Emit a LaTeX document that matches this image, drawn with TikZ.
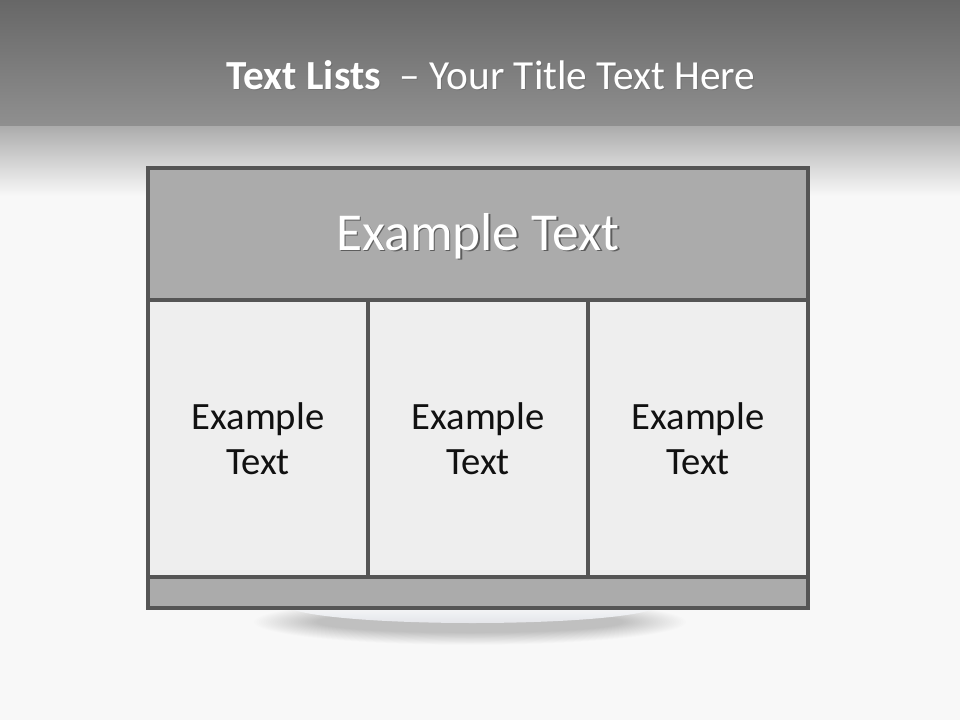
\documentclass[tikz,border=0pt]{standalone}
\usepackage{fontspec}
\setmainfont{Carlito}
\definecolor{bgw}{HTML}{F8F8F8}
\definecolor{topa}{HTML}{676767}
\definecolor{topb}{HTML}{909090}
\definecolor{fadea}{HTML}{ADADAD}
\definecolor{edge}{HTML}{555555}
\definecolor{hdrfill}{HTML}{ABABAB}
\definecolor{cellfill}{HTML}{EEEEEE}
\definecolor{txt}{HTML}{111111}
\definecolor{lensa}{HTML}{F4F5F7}
\definecolor{lensb}{HTML}{DEE0E5}
\tikzset{
  part/.style={draw=edge, line width=2.4pt, inner sep=0pt, outer sep=0pt},
  hdrbox/.style={part, fill=hdrfill, minimum width=495pt, minimum height=99pt},
  cellbox/.style={part, fill=cellfill, minimum width=165pt, minimum height=207.75pt},
  footbox/.style={part, fill=hdrfill, minimum width=495pt, minimum height=23.25pt},
  celltext/.style={text=txt, font=\fontsize{29}{34}\selectfont, align=center, inner sep=0pt},
  bigtext/.style={text=white, font=\fontsize{40}{44}\selectfont, inner sep=0pt},
  titletext/.style={text=white, font=\fontsize{31}{34}\selectfont, inner sep=0pt},
  shadowtext/.style={text=black, opacity=0.45},
  blurlayer/.style={fill=black, opacity=0.009}
}
\begin{document}
\begin{tikzpicture}[x=0.75pt,y=-0.75pt]
\useasboundingbox (0,0) rectangle (960,720);
% background
\fill[bgw] (0,0) rectangle (960,720);
\shade[top color=topa, bottom color=topb] (0,0) rectangle (960,127);
\shade[top color=fadea, bottom color=bgw] (0,127) rectangle (960,196);
% title
\node[titletext, shadowtext, opacity=0.12] (titleshadow) at (492,76) {\textbf{Text Lists}\ \ – Your Title Text Here};
\node[titletext] (title) at (491,75) {\textbf{Text Lists}\ \ – Your Title Text Here};
% soft shadow and reflection below the panel
\foreach \i in {0,...,27} {
  \fill[blurlayer] (470,622) ellipse ({216-2.3*\i} and {23-0.45*\i});
}
\shade[top color=lensa, bottom color=lensb] (288,608) .. controls (335,628) and (610,628) .. (657,608) -- cycle;
% panel
\node[hdrbox] (head) at (478,234) {};
\node[cellbox] (c1) at (258,438.5) {};
\node[cellbox] (c2) at (478,438.5) {};
\node[cellbox] (c3) at (698,438.5) {};
\node[footbox] (foot) at (478,592.5) {};
\draw[part, fill=none] (head.north west) rectangle (foot.south east);
% texts
\node[bigtext, shadowtext] (headshadow) at (479.5,237.5) {Example Text};
\node[bigtext] (headtext) at (478,236) {Example Text};
\node[celltext] (t1) at (c1) {Example\\Text};
\node[celltext] (t2) at (c2) {Example\\Text};
\node[celltext] (t3) at (c3) {Example\\Text};
\end{tikzpicture}
\end{document}
